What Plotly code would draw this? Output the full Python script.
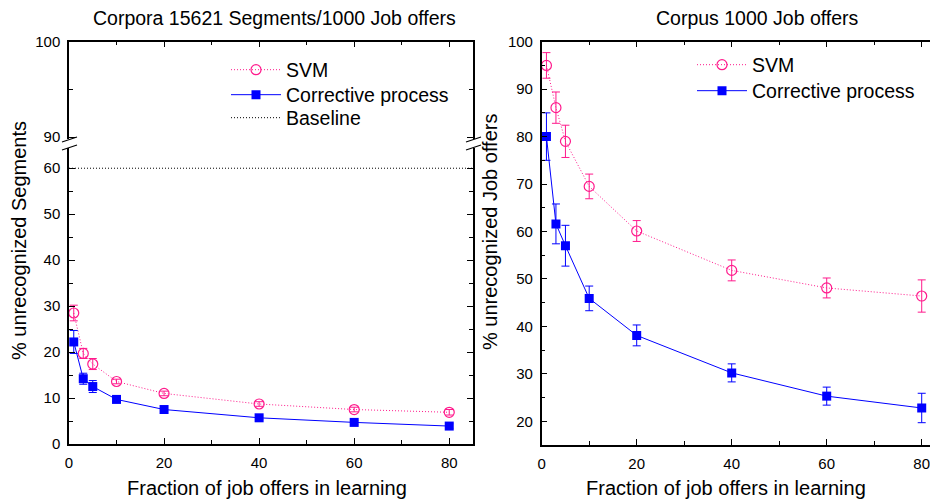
import plotly.graph_objects as go

# ---------------- data ----------------
fractions = [1, 3, 5, 10, 20, 40, 60, 80]

seg_svm = [28.5, 19.7, 17.4, 13.6, 11.0, 8.7, 7.5, 6.9]
seg_svm_err = [1.7, 1.1, 1.2, 0.5, 0.5, 0.5, 0.5, 0.6]
seg_corr = [22.2, 14.2, 12.5, 9.7, 7.5, 5.7, 4.7, 3.9]
seg_corr_err = [2.5, 1.2, 1.3, 0.5, 0.4, 0.4, 0.4, 0.5]
baseline_value = 60

job_svm = [95.0, 86.1, 79.0, 69.5, 60.1, 51.8, 48.1, 46.4]
job_svm_err = [2.7, 3.3, 3.4, 2.6, 2.2, 2.2, 2.1, 3.4]
job_corr = [80.0, 61.6, 57.0, 45.9, 38.1, 30.2, 25.3, 22.8]
job_corr_err = [5.0, 4.2, 4.3, 2.6, 2.2, 1.9, 1.9, 3.1]

titles = ["Corpora 15621 Segments/1000 Job offers", "Corpus 1000 Job offers"]
xtitle = "Fraction of job offers in learning"
ytitles = ["% unrecognized Segments", "% unrecognized Job offers"]
names = ["SVM", "Corrective process", "Baseline"]

# ---------------- style ----------------
PINK = "#FF1A8C"
BLUE = "#0000FF"
FONT = "Arial, Liberation Sans, sans-serif"
OFF = 8                      # page body margin of the browser
W, H = 938 - OFF, 501 - OFF
DOT = "1px,2px"


def px(v):
    return (v - OFF) / W


def py(v):
    return 1 - (v - OFF) / H


fig = go.Figure()

# left panel
fig.add_trace(go.Scatter(
    x=fractions, y=seg_svm, name=names[0], mode="lines+markers",
    line=dict(color=PINK, width=1, dash=DOT),
    marker=dict(symbol="circle-open", size=10, color=PINK, line=dict(width=1.2)),
    error_y=dict(type="data", array=seg_svm_err, color=PINK, thickness=1, width=4),
    xaxis="x", yaxis="y", legend="legend"))
fig.add_trace(go.Scatter(
    x=fractions, y=seg_corr, name=names[1], mode="lines+markers",
    line=dict(color=BLUE, width=1),
    marker=dict(symbol="square", size=9, color=BLUE),
    error_y=dict(type="data", array=seg_corr_err, color=BLUE, thickness=1, width=4),
    xaxis="x", yaxis="y", legend="legend2"))
fig.add_trace(go.Scatter(
    x=[0, 85], y=[baseline_value, baseline_value], name=names[2], mode="lines",
    line=dict(color="black", width=1, dash=DOT),
    xaxis="x", yaxis="y", legend="legend3"))
# empty trace so the upper (broken) part of the left axis is drawn
fig.add_trace(go.Scatter(x=[], y=[], xaxis="x3", yaxis="y3", showlegend=False,
                         hoverinfo="skip"))

# right panel
fig.add_trace(go.Scatter(
    x=fractions, y=job_svm, name=names[0], mode="lines+markers",
    line=dict(color=PINK, width=1, dash=DOT),
    marker=dict(symbol="circle-open", size=10, color=PINK, line=dict(width=1.2)),
    error_y=dict(type="data", array=job_svm_err, color=PINK, thickness=1, width=4),
    xaxis="x2", yaxis="y2", legend="legend4"))
fig.add_trace(go.Scatter(
    x=fractions, y=job_corr, name=names[1], mode="lines+markers",
    line=dict(color=BLUE, width=1),
    marker=dict(symbol="square", size=9, color=BLUE),
    error_y=dict(type="data", array=job_corr_err, color=BLUE, thickness=1, width=4),
    xaxis="x2", yaxis="y2", legend="legend5"))

axis_common = dict(showline=True, linecolor="black", linewidth=1.5, ticks="inside",
                   ticklen=6, tickwidth=1, tickcolor="black", showgrid=False,
                   zeroline=False, automargin=False,
                   tickfont=dict(size=15, color="black", family=FONT))
minor = dict(ticklen=4, ticks="inside", tickcolor="black", showgrid=False)

left_dom = [px(69), px(473)]
right_dom = [px(541.7), 1.0]


def leg(xp, yp):
    return dict(x=px(xp), y=py(yp), xanchor="left", yanchor="middle",
                bgcolor="rgba(0,0,0,0)", font=dict(size=19.5, family=FONT),
                itemwidth=50, tracegroupgap=0)


fig.update_layout(
    template="none",
    width=W, height=H, margin=dict(l=0, r=0, t=0, b=0, pad=0, autoexpand=False),
    paper_bgcolor="white", plot_bgcolor="white",
    font=dict(family=FONT, color="black"),
    xaxis=dict(domain=left_dom, range=[0, 85], anchor="y", dtick=20, tick0=0,
               ticklabelstandoff=4, minor=dict(dtick=10, **minor), **axis_common),
    yaxis=dict(domain=[py(444), py(148)], range=[0, 64.4], anchor="x", dtick=10,
               ticklabelstandoff=4, mirror="ticks", minor=dict(dtick=5, **minor),
               **axis_common),
    xaxis3=dict(domain=left_dom, range=[0, 85], anchor="y3", side="top", dtick=20,
                showticklabels=False, minor=dict(dtick=10, **minor), **axis_common),
    yaxis3=dict(domain=[py(139), py(41.7)], range=[89.8, 100], anchor="x3", dtick=10,
                tick0=90, ticklabelstandoff=4, mirror="ticks",
                minor=dict(dtick=5, **minor), **axis_common),
    xaxis2=dict(domain=right_dom, range=[0, 83.43], anchor="y2", dtick=20, tick0=0,
                ticklabelstandoff=4, mirror="ticks", minor=dict(dtick=10, **minor),
                **axis_common),
    yaxis2=dict(domain=[py(445), py(41.7)], range=[15, 100], anchor="x2", dtick=10,
                tick0=0, ticklabelstandoff=4, mirror="ticks",
                minor=dict(dtick=5, **minor), **axis_common),
    legend=leg(226, 70),
    legend2=leg(226, 95),
    legend3=leg(226, 118),
    legend4=leg(692, 65),
    legend5=leg(692, 91),
    showlegend=True,
)

# titles and axis titles
ann = [
    dict(text=titles[0], x=px(274), y=py(18), size=19.5),
    dict(text=titles[1], x=px(757), y=py(18), size=19.5),
    dict(text=xtitle, x=px(267), y=py(488), size=20),
    dict(text=xtitle, x=px(726), y=py(488), size=20),
    dict(text=ytitles[0], x=px(19), y=py(241), size=20, angle=-90),
    dict(text=ytitles[1], x=px(490), y=py(232), size=20, angle=-90),
]
for a in ann:
    fig.add_annotation(text=a["text"], x=a["x"], y=a["y"], xref="paper", yref="paper",
                       showarrow=False, xanchor="center", yanchor="middle",
                       textangle=a.get("angle", 0),
                       font=dict(size=a.get("size", 16), family=FONT, color="black"))

# axis-break marks on the left panel
for xc in (69, 473):
    for dy in (0, 8):
        fig.add_shape(type="line", xref="paper", yref="paper",
                      x0=px(xc - 7), y0=py(142 + dy), x1=px(xc + 8), y1=py(137 + dy),
                      line=dict(color="black", width=1.2))

fig.write_html("out.html")
